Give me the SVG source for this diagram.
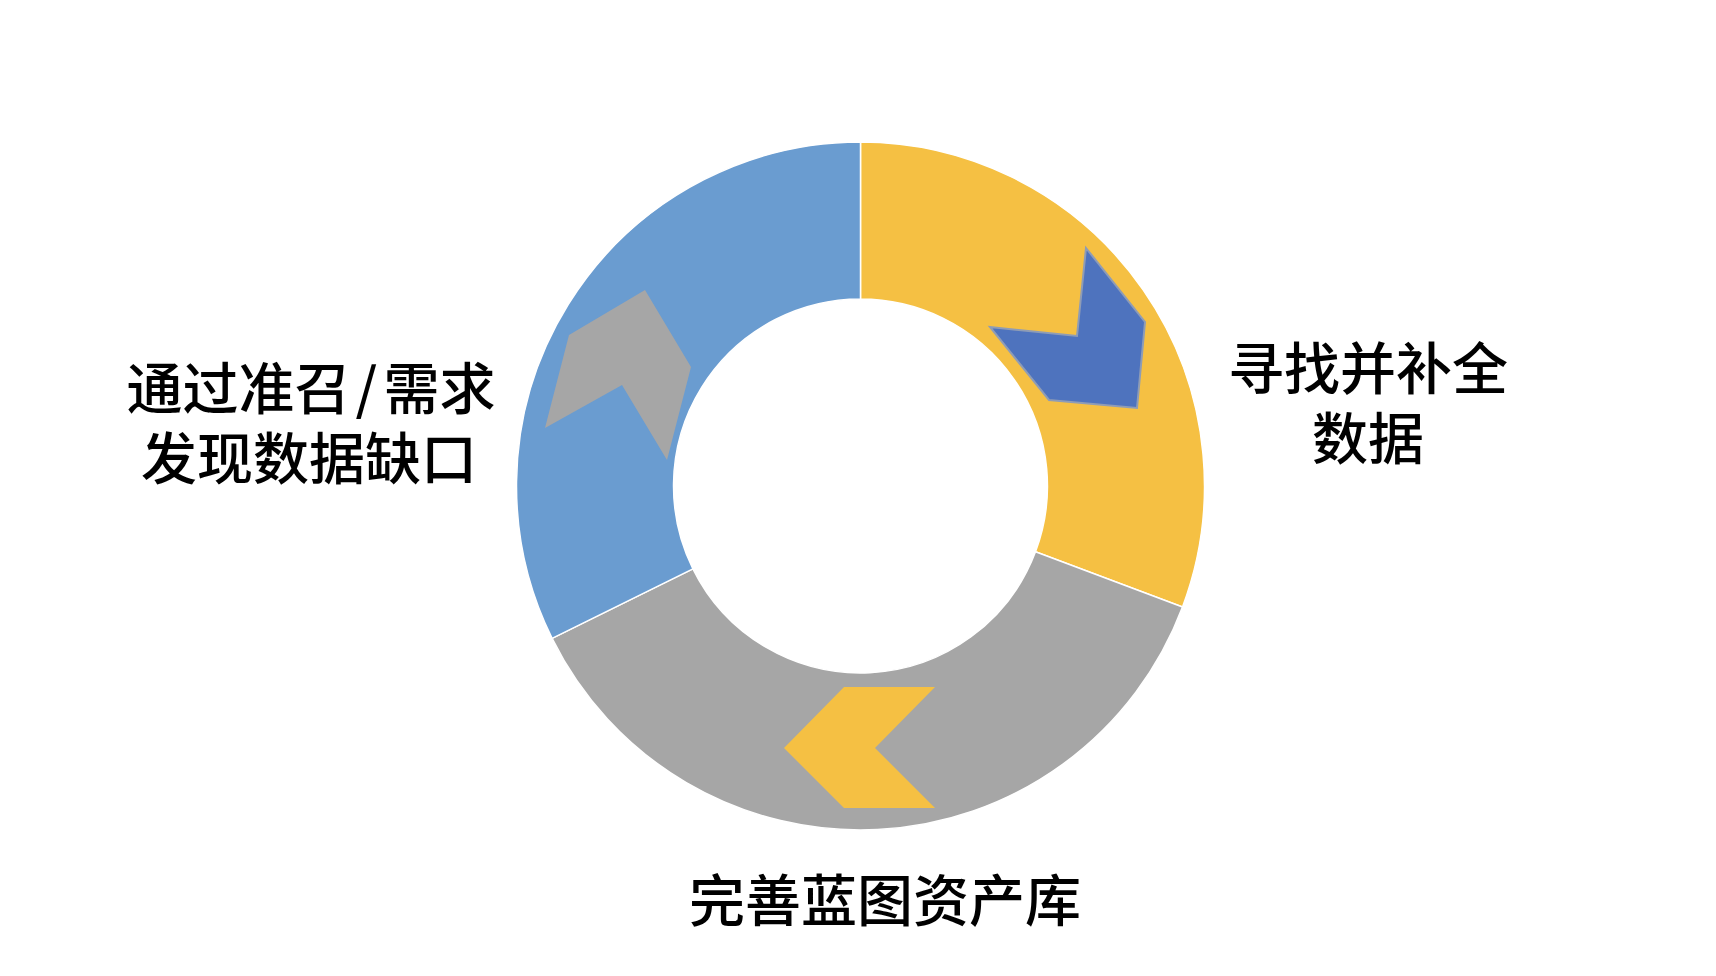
<svg xmlns="http://www.w3.org/2000/svg" width="1716" height="976" viewBox="0 0 1716 976">
<style>
.seg{stroke:#ffffff;stroke-width:1.5;stroke-linejoin:round}
.lbl{font-family:"Noto Sans CJK SC","Noto Sans",sans-serif;font-size:56px;font-weight:500;fill:#000000;text-anchor:middle}
</style>
<rect width="1716" height="976" fill="#ffffff"/>
<g id="ring">
<path id="seg-yellow" class="seg" fill="#F5C043" d="M 860.5 142 A 344 344 0 0 1 1182.5 607 L 1035.5 551.8 A 187 187 0 0 0 860.5 299 Z"/>
<path id="seg-gray" class="seg" fill="#A6A6A6" d="M 1182.5 607 A 344 344 0 0 1 552.1 638.4 L 692.9 568.9 A 187 187 0 0 0 1035.5 551.8 Z"/>
<path id="seg-blue" class="seg" fill="#6A9CD0" d="M 552.1 638.4 A 344 344 0 0 1 860.5 142 L 860.5 299 A 187 187 0 0 0 692.9 568.9 Z"/>
</g>
<g id="arrows">
<polygon id="arrow-blue" fill="#4E73BE" stroke="#8E9CB6" stroke-width="2" stroke-linejoin="miter" points="1086,248 1145,322 1137,408 1049,400 990,327 1077,336"/>
<polygon id="arrow-gray" fill="#A6A6A6" points="645,290 691,367 667,460 622,385 545,428 569,335"/>
<polygon id="arrow-yellow" fill="#F5C043" points="844,687 935,687 875,748 935,808 844,808 784,748"/>
</g>
<g id="label-left">
<text class="lbl" x="311" y="409">通过准召<tspan dx="5">/</tspan><tspan dx="6">需求</tspan></text>
<text class="lbl" x="309" y="479">发现数据缺口</text>
</g>
<g id="label-right">
<text class="lbl" x="1368" y="389">寻找并补全</text>
<text class="lbl" x="1368" y="459">数据</text>
</g>
<g id="label-bottom">
<text class="lbl" x="885" y="921">完善蓝图资产库</text>
</g>
</svg>
